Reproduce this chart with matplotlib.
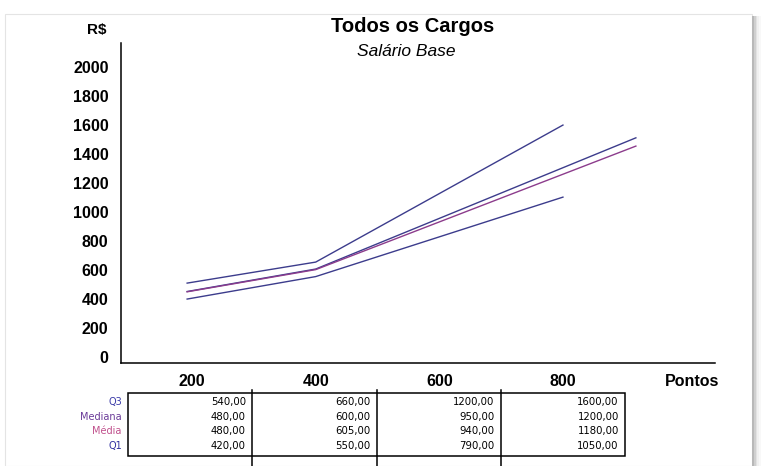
import matplotlib.pyplot as plt
from matplotlib.patches import Rectangle
import numpy as np

# Lines (Pontos vs R$)
q3_x = [192, 400, 800]
q3_y = [510, 655, 1600]
median_x = [192, 400, 918]
median_y = [452, 607, 1512]
mean_x = [192, 400, 918]
mean_y = [450, 603, 1455]
q1_x = [192, 400, 800]
q1_y = [400, 555, 1103]

# Data table under the chart
col_labels = ['200', '400', '600', '800']
row_labels = ['Q3', 'Mediana', 'Média', 'Q1']
row_colors = ['#3a3aa8', '#6a3a98', '#c0508c', '#3030a0']
table_q3 = [540, 660, 1200, 1600]
table_median = [480, 600, 950, 1200]
table_mean = [480, 605, 940, 1180]
table_q1 = [420, 550, 790, 1050]
y_ticks = list(range(0, 2001, 200))

plt.rcParams['font.family'] = ['Liberation Sans', 'DejaVu Sans']

W, H = 761, 466
fig = plt.figure(figsize=(W / 100, H / 100), dpi=100)

# Screenshot frame: faint border and right shadow
fig.patches.append(Rectangle((5 / W, 0), 747 / W, 1 - 14 / H, transform=fig.transFigure,
                             facecolor='white', edgecolor='#e4e4e4', lw=0.8, zorder=-5))
for i, c in enumerate(['#b8b8b8', '#cfcfcf', '#e2e2e2', '#f0f0f0', '#f8f8f8']):
    fig.patches.append(Rectangle(((752 + i * 1.8) / W, 0), 1.8 / W, 1 - 16 / H,
                                 transform=fig.transFigure, facecolor=c, lw=0, zorder=-4))

ax = fig.add_axes([121 / W, 1 - 363 / H, 594 / W, 320 / H])
ax.set_facecolor('none')

navy = '#3c3c8c'
ax.plot(q3_x, q3_y, color=navy, lw=1.0)
ax.plot(median_x, median_y, color=navy, lw=1.0)
ax.plot(mean_x, mean_y, color='#8c3c8c', lw=1.0)
ax.plot(q1_x, q1_y, color=navy, lw=1.0)

ax.set_xlim(85, 1046)
ax.set_ylim(-41, 2166)
ax.set_yticks(y_ticks)
ax.set_yticklabels([str(v) for v in y_ticks], fontsize=11.5, fontweight='bold')
ax.set_xticks([200, 400, 600, 800])
ax.set_xticklabels(col_labels, fontsize=11.5, fontweight='bold')
ax.tick_params(axis='both', length=0)
ax.tick_params(axis='y', pad=9)
ax.tick_params(axis='x', pad=8)
for s in ['top', 'right']:
    ax.spines[s].set_visible(False)
for s in ['left', 'bottom']:
    ax.spines[s].set_linewidth(1.1)
    ax.spines[s].set_color('black')

fig.text(97 / W, 1 - 30 / H, 'R$', fontsize=11, fontweight='bold', ha='center', va='center')
fig.text(413 / W, 1 - 27 / H, 'Todos os Cargos', fontsize=14.5, fontweight='bold',
         ha='center', va='center')
fig.text(406 / W, 1 - 52 / H, 'Salário Base', fontsize=12.5, style='italic',
         ha='center', va='center')
fig.text(692 / W, 1 - 381 / H, 'Pontos', fontsize=11.5, fontweight='bold', ha='center', va='center')

# Data table
tax = fig.add_axes([128 / W, 1 - 456 / H, 497 / W, 63 / H])
tax.set_xlim(0, 4)
tax.set_ylim(0, 1)
tax.axis('off')
tax.add_patch(Rectangle((0, 0), 4, 1, fill=False, edgecolor='black', lw=1.1, clip_on=False))
for k in range(1, 4):
    tax.plot([k, k], [-0.2, 1.04], color='black', lw=1.1, clip_on=False)

rows = [table_q3, table_median, table_mean, table_q1]
for i, (lab, col, vals) in enumerate(zip(row_labels, row_colors, rows)):
    yy = 1 - (0.143 + i * 0.233)
    tax.text(-0.05, yy, lab, color=col, fontsize=7, ha='right', va='center',
             family='DejaVu Sans')
    for j, v in enumerate(vals):
        tax.text(j + 1 - 0.05, yy, f'{v:.2f}'.replace('.', ','), fontsize=7.3,
                 ha='right', va='center', family='DejaVu Sans')

fig.savefig('out.png', dpi=100)
